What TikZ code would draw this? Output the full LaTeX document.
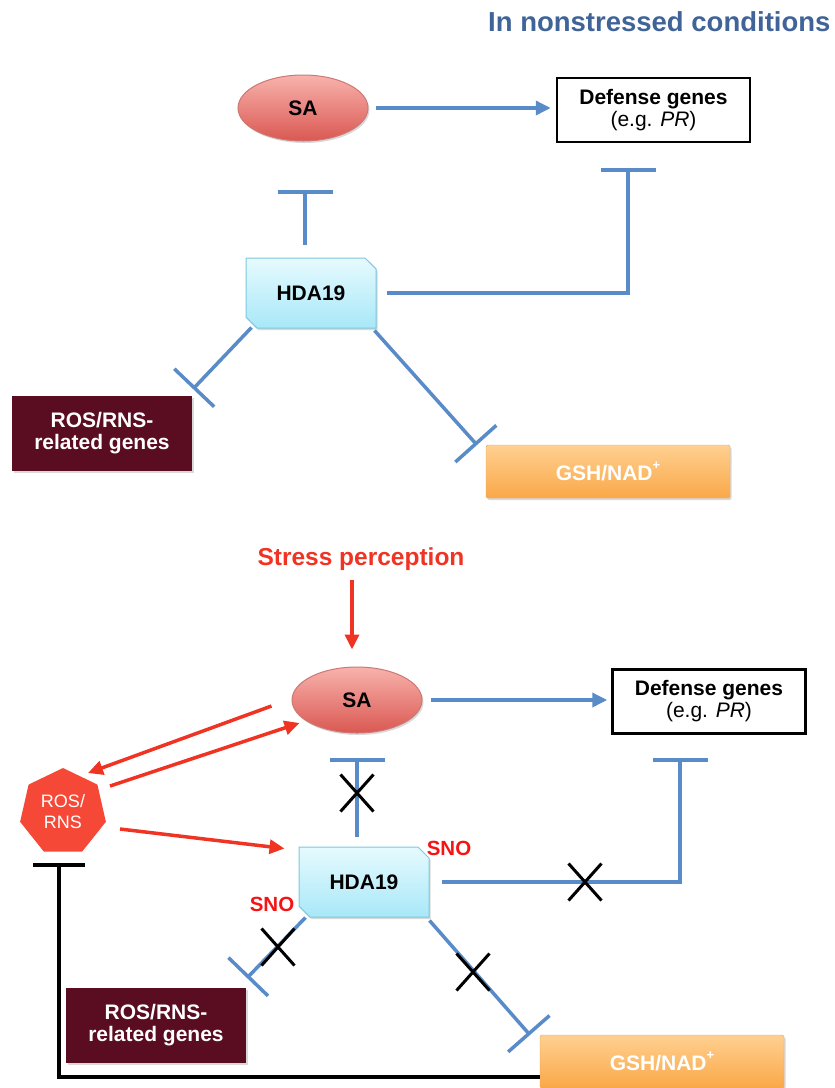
\documentclass[tikz,border=0pt]{standalone}
\usepackage{fontspec}
\setmainfont{Liberation Sans}
\usepackage{tikz}
\usetikzlibrary{arrows.meta,positioning,shapes.geometric,shapes.misc,shadows,calc}
\definecolor{linkblue}{RGB}{88,139,199}
\definecolor{titleblue}{RGB}{64,100,152}
\definecolor{stressred}{RGB}{240,52,36}
\definecolor{snored}{RGB}{245,20,20}
\definecolor{rosred}{RGB}{246,72,54}
\definecolor{genemaroon}{RGB}{90,12,32}
\definecolor{satop}{RGB}{248,178,172}
\definecolor{sabot}{RGB}{218,88,82}
\definecolor{saedge}{RGB}{205,120,115}
\definecolor{hdatop}{RGB}{230,250,254}
\definecolor{hdabot}{RGB}{168,232,248}
\definecolor{hdaedge}{RGB}{125,200,222}
\definecolor{gshtop}{RGB}{255,208,145}
\definecolor{gshbot}{RGB}{250,168,72}
\definecolor{gshedge}{RGB}{232,165,90}
\newcommand{\supplus}{\raisebox{0.5em}{\fontsize{13}{13}\selectfont+}}

\begin{document}
\begin{tikzpicture}[x=1pt,y=-1pt,
  box/.style={font=\fontsize{21}{22}\selectfont\bfseries,align=center,inner sep=0pt},
  softshadow/.style={drop shadow={opacity=0.3,shadow xshift=1.5pt,shadow yshift=-2pt}},
  sanode/.style={box,ellipse,draw=saedge,line width=1pt,top color=satop,bottom color=sabot,
    minimum width=130pt,minimum height=66pt,softshadow},
  hdanode/.style={box,chamfered rectangle,chamfered rectangle corners={north east,south west},
    chamfered rectangle xsep=11pt,draw=hdaedge,line width=1pt,top color=hdatop,
    bottom color=hdabot,minimum width=130pt,minimum height=70pt,softshadow},
  defbox/.style={box,draw=black,line width=2.5pt,fill=white,minimum width=193pt,minimum height=64pt},
  genebox/.style={box,fill=genemaroon,text=white,minimum width=180pt,minimum height=75pt,softshadow},
  gshbox/.style={box,draw=gshedge,rounded corners=1.5pt,top color=gshtop,bottom color=gshbot,
    text=white,minimum width=244pt,minimum height=53pt,softshadow},
  rosnode/.style={regular polygon,regular polygon sides=7,minimum size=88pt,fill=rosred,
    text=white,font=\fontsize{18}{21}\selectfont,align=center,inner sep=0pt},
  snotext/.style={text=snored,font=\fontsize{20.5}{22}\selectfont\bfseries},
  act/.style={linkblue,line width=3.5pt,-{Triangle[length=15pt,width=14pt]}},
  actred/.style={stressred,line width=3.5pt,-{Triangle[length=15pt,width=14pt]}},
  inhib/.style={linkblue,line width=3.5pt,-{Bar[width=55pt]}},
  inhibk/.style={black,line width=3.5pt,-{Bar[width=52pt]}},
  xmark/.style={cross out,draw=black,line width=3pt,minimum width=30pt,minimum height=34pt,inner sep=0pt}]
  \useasboundingbox (0,0) rectangle (835,1088);

  % --- upper panel: nonstressed ---
  \node[anchor=east,font=\fontsize{27.5}{30}\selectfont\bfseries,text=titleblue] (title) at (834,22)
        {In nonstressed conditions};
  \node[sanode] (saA) at (303,108) {SA};
  \node[defbox] (defA) at (653.5,110) {Defense genes\\\mdseries(e.g. \textit{PR})};
  \node[hdanode] (hdaA) at (311,293) {HDA19};
  \node[genebox] (rosgA) at (102,433) {ROS/RNS-\\related genes};
  \node[gshbox] (gshA) at (608,471.5) {GSH/NAD\supplus};
  % free ends of the inhibition bars
  \coordinate (barA1) at (305,190);
  \coordinate (barA2) at (628,168);
  \coordinate (barA3) at (193,389);
  \coordinate (barA4) at (477,445);
  \draw[act,shorten <=7pt,shorten >=5pt] (saA.east) -- (saA.east -| defA.west);
  \draw[inhib,shorten <=13pt] (hdaA.north -| barA1) -- (barA1);
  \draw[inhib,shorten <=10pt] (hdaA.east) -| (barA2);
  \draw[inhib] ($(hdaA.south -| hdaA.west)+(6,-1)$) -- (barA3);
  \draw[inhib] ($(hdaA.south -| hdaA.east)+(-2,2)$) -- (barA4);

  % --- lower panel: after stress perception ---
  \node[font=\fontsize{24.5}{26}\selectfont\bfseries,text=stressred] (stress) at (361,559)
        {Stress perception};
  \node[sanode] (saB) at (357,700) {SA};
  \node[defbox] (defB) at (709,701.5) {Defense genes\\\mdseries(e.g. \textit{PR})};
  \node[rosnode] (ros) at (63,812) {ROS/\\RNS};
  \node[hdanode] (hdaB) at (364,882) {HDA19};
  \node[snotext] (snoR) at (449,848) {SNO};
  \node[snotext] (snoL) at (272,904) {SNO};
  \node[genebox] (rosgB) at (156,1025) {ROS/RNS-\\related genes};
  \node[gshbox] (gshB) at (662,1061.5) {GSH/NAD\supplus};
  \coordinate (barB1) at (357,758);
  \coordinate (barB2) at (680,758);
  \coordinate (barB3) at (247,978);
  \coordinate (barB4) at (530,1035);
  \coordinate (barB5) at (59,863);
  % red activation arrows
  \draw[actred,shorten <=6pt,shorten >=17pt] ($(saB.north |- stress.south)+(-5,0)$) -- ($(saB.north)+(-5,0)$);
  \draw[actred] ($(saB.west)+(-20,6)$) -- ($(ros.center)+(25,-39)$);
  \draw[actred] ($(ros.center)+(47,-26)$) -- ($(saB.west)+(8,23)$);
  \draw[actred] ($(ros.center)+(57,17)$) -- ($(hdaB.north -| hdaB.west)+(-14,2)$);
  \draw[act,shorten <=8pt,shorten >=4pt] (saB.east) -- (saB.east -| defB.west);
  % HDA19 inhibitions, now blocked
  \draw[inhib,shorten <=10pt] (hdaB.north -| barB1) -- (barB1);
  \draw[inhib,shorten <=12pt] (hdaB.east) -| (barB2);
  \draw[inhib] ($(hdaB.south -| hdaB.west)+(7,0)$) -- (barB3);
  \draw[inhib] ($(hdaB.south -| hdaB.east)+(0,3)$) -- (barB4);
  \draw[inhibk] ($(gshB.west)+(0,15.5)$) -| (barB5);
  \foreach \x/\y [count=\i] in {357/793,585/882,278/947,473/972}
    \node[xmark] (cross\i) at (\x,\y) {};
\end{tikzpicture}
\end{document}
